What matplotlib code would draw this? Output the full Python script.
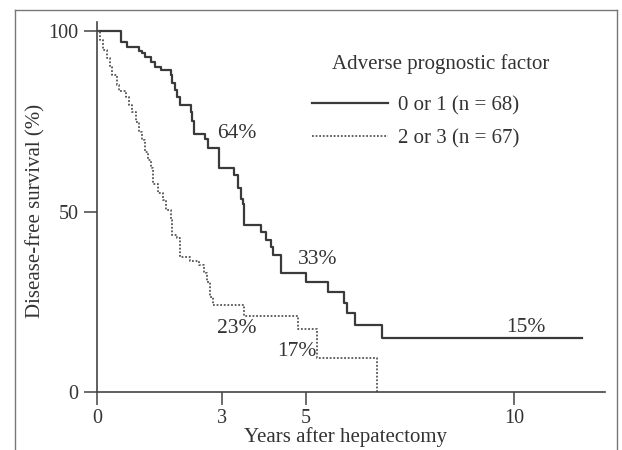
import matplotlib
matplotlib.use("Agg")
import matplotlib.pyplot as plt
from matplotlib.lines import Line2D

# ---- data (years after hepatectomy, disease-free survival %) ----
low_risk_years = [0, 0.58, 0.72, 1.00, 1.07, 1.16, 1.30, 1.40, 1.53, 1.77, 1.81, 1.86,
                  1.93, 1.98, 2.26, 2.28, 2.33, 2.58, 2.67, 2.93, 3.29, 3.39, 3.46,
                  3.51, 3.53, 3.94, 4.06, 4.18, 4.23, 4.42, 5.02, 5.53, 5.92, 5.99,
                  6.19, 6.84, 11.63]
low_risk_surv = [100, 97.0, 95.6, 94.6, 93.9, 92.8, 91.4, 90.0, 89.2, 87.8, 85.6, 83.7,
                 81.7, 79.5, 77.6, 75.0, 71.6, 70.1, 67.6, 62.0, 60.0, 56.5, 53.5,
                 52.1, 46.3, 44.3, 42.1, 40.2, 38.0, 33.0, 30.5, 27.7, 24.7, 21.9,
                 18.6, 15.0, 15.0]

high_risk_years = [0, 0.07, 0.14, 0.23, 0.30, 0.37, 0.47, 0.53, 0.70, 0.77, 0.84, 0.93,
                   1.00, 1.07, 1.16, 1.23, 1.30, 1.35, 1.47, 1.58, 1.65, 1.77, 1.81,
                   1.93, 2.00, 2.23, 2.44, 2.56, 2.63, 2.70, 2.79, 3.53, 4.83, 5.27,
                   6.72]
high_risk_surv = [100, 97.5, 94.7, 92.5, 90.0, 87.8, 85.0, 83.5, 81.7, 79.5, 77.6, 74.8,
                  72.0, 69.8, 66.5, 64.3, 62.0, 57.6, 55.1, 53.2, 50.4, 47.6, 43.5,
                  42.7, 37.4, 36.3, 35.2, 33.0, 30.5, 26.3, 24.0, 21.0, 17.5, 9.4,
                  0]

series_labels = ["0 or 1 (n = 68)", "2 or 3 (n = 67)"]
legend_title = "Adverse prognostic factor"
x_ticks = [0, 3, 5, 10]
y_ticks = [0, 50, 100]

annot_text = ["64%", "33%", "23%", "17%", "15%"]
annot_x = [3.36, 5.28, 3.36, 4.80, 10.29]
annot_y = [71.7, 36.6, 17.7, 11.1, 18.0]

# ---- styling ----
W, H = 622, 450
plt.rcParams["font.family"] = ["Liberation Serif", "DejaVu Serif"]
txt_color = "#333333"
line_color = "#3a3a3a"
dot_color = "#555555"
fs = 15
fs_tick = 14.5

fig = plt.figure(figsize=(W / 100, H / 100), dpi=100)
fig.patch.set_facecolor("white")

ax_left, ax_right = 97 / W, 605 / W
ax_bottom, ax_top = 1 - 392 / H, 1 - 22 / H
ax = fig.add_axes([ax_left, ax_bottom, ax_right - ax_left, ax_top - ax_bottom])

ax.step(low_risk_years, low_risk_surv, where="post", color=line_color, lw=1.6,
        label=series_labels[0])
ax.step(high_risk_years, high_risk_surv, where="post", color=dot_color, lw=1.3,
        linestyle=(0, (1, 1)), label=series_labels[1])

ax.set_xlim(0, 12.18)
ax.set_ylim(0, 102.5)
ax.set_xticks(x_ticks)
ax.set_yticks(y_ticks)
ax.set_xticklabels([str(t) for t in x_ticks])
ax.set_yticklabels([str(t) for t in y_ticks])
for s in ["top", "right"]:
    ax.spines[s].set_visible(False)
for s in ["left", "bottom"]:
    ax.spines[s].set_color("#444444")
    ax.spines[s].set_linewidth(1.2)
ax.tick_params(direction="out", length=9.5, width=1.1, color="#444444",
               labelsize=fs_tick, labelcolor=txt_color)
ax.tick_params(axis="y", pad=4)
ax.tick_params(axis="x", pad=3)

for t, x, y in zip(annot_text, annot_x, annot_y):
    ax.text(x, y, t, ha="center", va="center", fontsize=fs + 0.5, color=txt_color)

# legend
handles = [Line2D([], [], color=line_color, lw=1.6),
           Line2D([], [], color=dot_color, lw=1.3, linestyle=(0, (1, 1)))]
leg = fig.legend(handles, series_labels, loc="upper left",
                 bbox_to_anchor=(312 / W, 1 - 96 / H), frameon=False,
                 fontsize=fs, handlelength=3.65, handletextpad=0.48,
                 labelspacing=0.64, borderpad=0, borderaxespad=0)
for t in leg.get_texts():
    t.set_color(txt_color)
fig.text(441 / W, 1 - 64 / H, legend_title, ha="center", va="center",
         fontsize=fs, color=txt_color)

# axis labels
fig.text(36 / W, 1 - 211 / H, "Disease-free survival (%)", rotation=90,
         ha="center", va="center", fontsize=fs, color=txt_color)
fig.text(346 / W, 1 - 437 / H, "Years after hepatectomy", ha="center",
         va="center", fontsize=fs, color=txt_color)

# outer frame of the scanned figure
frame_kw = dict(color="#777777", lw=1.0, transform=fig.transFigure)
fig.add_artist(Line2D([15 / W, 15 / W], [-0.1, 1 - 10 / H], **frame_kw))
fig.add_artist(Line2D([15 / W, 617 / W], [1 - 10 / H, 1 - 10 / H], **frame_kw))
fig.add_artist(Line2D([617 / W, 617 / W], [1 - 10 / H, -0.1], **frame_kw))

fig.savefig("out.png", dpi=100, facecolor="white")
